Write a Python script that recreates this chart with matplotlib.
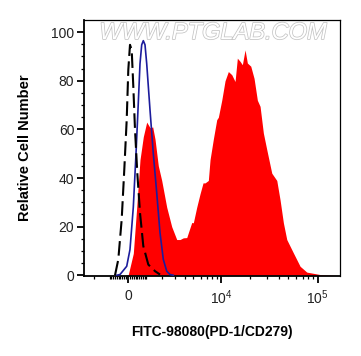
import numpy as np
import matplotlib
matplotlib.use("Agg")
import matplotlib.pyplot as plt
import matplotlib.patheffects as pe
from matplotlib.ticker import FixedLocator, FixedFormatter

# ---------------- data (fluorescence intensity, % of max) ----------------
sample_x = [-200, 16, 280, 462, 640, 824, 1018, 1212, 1376, 1521, 1737, 1970,
            2337, 2737, 3176, 3490, 3825, 4195, 4378, 4789, 4994, 5451, 5930,
            6397, 6726, 7302, 7615, 8261, 8980, 9338, 10145, 10990, 11903,
            12921, 13991, 14785, 15776, 16670, 17783, 18789, 20381, 22051,
            23859, 25445, 27527, 29850, 33625, 37874, 40968, 44311, 48040,
            56200, 65910, 77290, 106000, 160000]
sample_y = [0, 0.3, 9, 28, 47.5, 57, 63, 60.7, 61, 56, 45, 39,
            28, 20, 14.7, 14.7, 15.4, 15.5, 17.5, 21.7, 21.6, 28, 33.5,
            38, 38, 39, 47.5, 56, 64, 65, 72, 80, 83.8,
            82.5, 79.7, 89.3, 88, 86.6, 92.7, 87.3, 86, 81,
            72, 69.5, 58.5, 51.7, 42, 39, 31, 21.6, 14.7,
            9.2, 3.7, 1.3, 0.3, 0]

isotype_x = [-600, -424, -68, 105, 280, 424, 548, 640, 734, 824, 920, 1018,
             1212, 1414, 1631, 1852, 2085, 2337, 2597, 2873]
isotype_y = [0, 0.3, 3.7, 10.6, 28, 50, 71, 87, 94.8, 96.5, 94.8, 87,
             68, 50, 34, 17.5, 6.5, 1.7, 0.3, 0]

blank_x = [-695, -515, -333, -195, -68, 16, 105, 195, 280, 370, 494, 640,
           824, 1111, 1521, 1852]
blank_y = [0, 6.5, 23, 43.5, 64, 84.5, 94.8, 92.7, 77.7, 60, 42, 25.7,
           12, 4.4, 1.7, 0.3]

xmajor = [0, 1e4, 1e5]
xmajor_labels = ["0", r"$10^4$", r"$10^5$"]
xminor = ([-2000, -1000] + [-k * 100 for k in range(1, 10)] +
          [k * 100 for k in range(1, 10)] + [k * 1000 for k in range(1, 10)] +
          [k * 10000 for k in range(2, 10)])
yticks = [0, 20, 40, 60, 80, 100]

# ---------------- figure ----------------
C = 2217.0
plt.rcParams['font.family'] = ['Liberation Sans', 'DejaVu Sans']
plt.rcParams['mathtext.fontset'] = 'custom'
plt.rcParams['mathtext.rm'] = 'Liberation Sans'
plt.rcParams['mathtext.it'] = 'Liberation Sans'

fig = plt.figure(figsize=(3.61, 3.56), dpi=100)
ax = fig.add_axes([0.2327, 0.2247, 0.7091, 0.7191])
ax.set_xscale('function', functions=(lambda x: np.arcsinh(np.asarray(x) / C),
                                     lambda u: C * np.sinh(np.asarray(u))))

ax.fill_between(sample_x, sample_y, 0, color='#ff0000', linewidth=0, zorder=2)
ax.plot(isotype_x, isotype_y, color='#1c1c9c', lw=1.2, zorder=3)
ln, = ax.plot(blank_x, blank_y, color='black', lw=1.5, zorder=4)
ln.set_dashes((7, 2.6))

ax.set_xlim(-2760, 170000)
ax.set_ylim(-0.3, 105)

ax.xaxis.set_major_locator(FixedLocator(xmajor))
ax.xaxis.set_major_formatter(FixedFormatter(xmajor_labels))
ax.xaxis.set_minor_locator(FixedLocator(xminor))
ax.set_yticks(yticks)
ax.yaxis.set_minor_locator(FixedLocator(np.arange(0, 101, 5)))

ax.tick_params(axis='both', which='major', length=5, width=1.3,
               labelsize=10, labelcolor='#222222', direction='out', pad=2)
ax.tick_params(axis='both', which='minor', length=2.5, width=0.9,
               direction='out')
ax.tick_params(axis='x', which='major', pad=4)

for side in ['left', 'bottom']:
    ax.spines[side].set_linewidth(1.3)
for side in ['top', 'right']:
    ax.spines[side].set_linewidth(0.9)

wm = ax.text(0.504, 0.951, "WWW.PTGLAB.COM", transform=ax.transAxes,
             ha='center', va='center', fontsize=17, color='white',
             style='italic', zorder=1)
wm.set_path_effects([pe.Stroke(linewidth=1.1, foreground='#c4c4c4'),
                     pe.Normal()])

ax.set_xlabel("FITC-98080(PD-1/CD279)", fontsize=10, fontweight='bold')
ax.set_ylabel("Relative Cell Number", fontsize=10.5, fontweight='bold')
ax.yaxis.set_label_coords(-0.205, 0.5)
ax.xaxis.set_label_coords(0.5, -0.19)

fig.savefig("out.png", dpi=100)
